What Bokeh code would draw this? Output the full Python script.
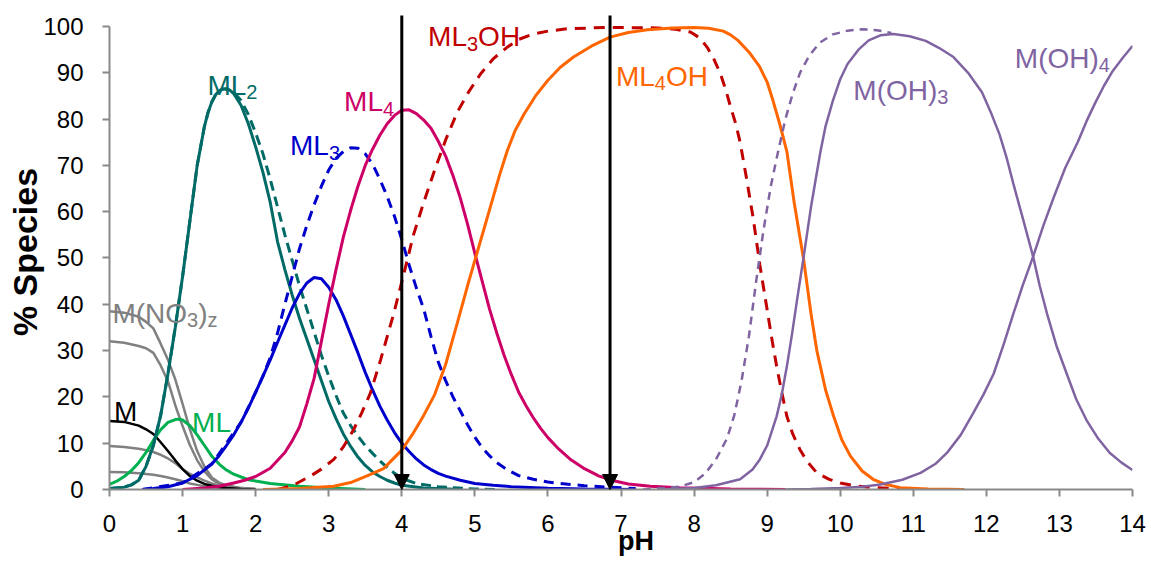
from bokeh.plotting import figure
from bokeh.models import Range1d, Label, Arrow, NormalHead, ColumnDataSource, LinearAxis, FixedTicker
from bokeh.embed import file_html
from bokeh.resources import INLINE

# ---------------- data ----------------
no3_x = [0, 0.2, 0.4, 0.5, 0.6, 0.7, 0.8, 0.9, 1.0, 1.1, 1.2, 1.3, 1.4, 1.5, 1.6, 1.8, 2.0]
no3_a = [38.5, 38.2, 37.3, 36.2, 34.8, 31.5, 28.0, 23.8, 18.5, 13.0, 8.3, 4.9, 2.6, 1.5, 0.9, 0.3, 0.1]
no3_b = [32.0, 31.7, 31.0, 30.5, 29.5, 26.8, 23.4, 18.2, 13.7, 9.6, 6.3, 3.9, 2.2, 1.3, 0.8, 0.3, 0.1]
no3_c = [9.4, 9.2, 8.8, 8.5, 8.1, 7.5, 6.7, 5.7, 4.4, 3.4, 2.6, 1.9, 1.3, 0.9, 0.6, 0.2, 0.05]
no3_d = [3.8, 3.7, 3.5, 3.35, 3.2, 2.9, 2.6, 2.2, 1.8, 1.3, 1.0, 0.7, 0.45, 0.3, 0.2, 0.05, 0.0]
m_y = [14.8, 14.6, 13.8, 13.0, 12.0, 10.2, 8.3, 6.3, 4.4, 2.9, 1.9, 1.2, 0.8, 0.5, 0.3, 0.1, 0.0]

ml_x = [0, 0.1, 0.2, 0.3, 0.4, 0.5, 0.6, 0.7, 0.8, 0.9, 0.95, 1.0, 1.1, 1.2, 1.3, 1.4, 1.5, 1.6,
        1.7, 1.9, 2.2, 2.6, 3.0, 3.5]
ml_y = [1.1, 1.8, 2.8, 4.1, 5.8, 8.0, 10.6, 12.9, 14.5, 15.1, 15.2, 15.0, 13.8, 11.8, 9.5, 7.2, 5.5, 4.2,
        3.3, 2.1, 1.3, 0.7, 0.3, 0.0]

ml2_x = [0, 0.2, 0.3, 0.4, 0.5, 0.6, 0.7, 0.8, 0.9, 1.0, 1.1, 1.2, 1.3, 1.35, 1.4, 1.45, 1.5, 1.55, 1.6,
         1.65, 1.7, 1.8, 1.9, 2.0, 2.1, 2.2, 2.3, 2.4, 2.5, 2.6, 2.7, 2.8, 2.9, 3.0, 3.1, 3.2, 3.3,
         3.4, 3.5, 3.6, 3.7, 3.8, 3.9, 4.0, 4.3, 4.8]
ml2_y = [0.2, 0.5, 1.0, 2.0, 5.0, 9.5, 16, 25, 35, 46, 58, 70, 78.5, 81.5, 83.7, 85.2, 86.1, 86.5, 86.5,
         86.2, 85.5, 83, 79, 74, 68.5, 62, 53.5, 47.5, 42, 37, 32.5, 28, 23.5, 19, 15.3, 12, 9.3,
         7, 5.2, 3.8, 2.8, 2.0, 1.4, 0.9, 0.3, 0.0]
ml2d_x = [0, 0.2, 0.3, 0.4, 0.5, 0.6, 0.7, 0.8, 0.9, 1.0, 1.1, 1.2, 1.3, 1.35, 1.4, 1.45, 1.5, 1.55, 1.6,
          1.65, 1.7, 1.8, 1.9, 2.0, 2.1, 2.2, 2.3, 2.4, 2.5, 2.6, 2.7, 2.8, 2.9, 3.0, 3.1, 3.2, 3.3,
          3.4, 3.5, 3.6, 3.7, 3.8, 3.9, 4.0, 4.2, 4.5, 5.0, 5.3]
ml2d_y = [0.2, 0.5, 1.0, 2.0, 5.0, 9.5, 16, 25, 35, 46, 58, 70, 78.5, 81.5, 83.7, 85.2, 86.1, 86.5, 86.5,
          86.3, 85.8, 84, 81, 77, 72.5, 67, 61, 55, 49.5, 44, 39, 34, 29, 24.5, 20.3, 16.5, 13.8,
          11.5, 9.5, 7.8, 6.2, 4.8, 3.5, 2.4, 1.3, 0.6, 0.1, 0.0]

ml3_x = [0.45, 0.6, 0.8, 1.0, 1.2, 1.4, 1.5, 1.6, 1.7, 1.8, 1.9, 2.0, 2.1, 2.2, 2.3, 2.4, 2.5, 2.6, 2.7,
         2.8, 2.9, 3.0, 3.1, 3.2, 3.3, 3.4, 3.5, 3.6, 3.7, 3.8, 3.9, 4.0, 4.1, 4.2, 4.3, 4.4, 4.5,
         4.6, 4.8, 5.0, 5.25, 5.5, 6.0, 6.5, 7.2]
ml3_y = [0, 0.2, 0.6, 1.4, 3.0, 5.5, 7.3, 9.5, 11.8, 14.5, 17.6, 21, 24.5, 28, 31.8, 35.5, 39.2, 42.3, 44.6,
         45.8, 45.5, 43.7, 41, 37.5, 33.5, 29.5, 25.3, 21.5, 18, 15, 12.3, 10, 8.2, 6.6, 5.3, 4.3, 3.5,
         2.9, 2.0, 1.3, 0.9, 0.6, 0.25, 0.1, 0.0]
ml3d_x = [0.45, 1.0, 1.4, 1.8, 2.0, 2.1, 2.2, 2.3, 2.4, 2.5, 2.6, 2.7, 2.8, 2.9, 3.0, 3.1, 3.2, 3.3, 3.4,
          3.5, 3.6, 3.7, 3.8, 3.9, 4.0, 4.1, 4.2, 4.3, 4.4, 4.5, 4.6, 4.7, 4.8, 4.9, 5.0, 5.1, 5.2,
          5.3, 5.45, 5.6, 5.8, 6.0, 6.5, 7.2]
ml3d_y = [0, 1.4, 5.5, 14.5, 21, 24.5, 28.5, 33.8, 40, 46, 52, 57, 61.5, 65.5, 69, 71.5, 73, 73.8, 73.7,
          72.5, 70.3, 67, 63.3, 59, 54, 48.5, 43.5, 39, 33, 27.5, 23.5, 20, 17, 14, 11.3, 9, 7.3,
          5.8, 4.2, 3, 2.2, 1.6, 0.8, 0.2]

ml4_x = [1.0, 1.3, 1.5, 1.7, 1.85, 2.0, 2.2, 2.4, 2.5, 2.6, 2.7, 2.8, 2.9, 3.0, 3.1, 3.2, 3.3, 3.4, 3.5,
         3.6, 3.7, 3.8, 3.9, 4.0, 4.1, 4.2, 4.3, 4.4, 4.5, 4.6, 4.7, 4.8, 4.9, 5.0, 5.1, 5.2, 5.3,
         5.4, 5.5, 5.6, 5.7, 5.8, 5.9, 6.0, 6.15, 6.3, 6.5, 6.7, 6.9, 7.1, 7.4, 7.8, 8.5, 9.25]
ml4_y = [0, 0.3, 0.7, 1.4, 2.0, 2.8, 4.6, 8.0, 10.5, 13.5, 18.5, 24, 32, 40, 47.5, 54.5, 60.3, 65.5, 70,
         73.5, 76.5, 79, 80.8, 81.9, 82, 81.2, 79.8, 78, 75.2, 72, 67.8, 63, 57.3, 51, 45, 39, 33.8,
         29, 24.8, 21, 18.1, 15.5, 13.2, 11.2, 8.7, 6.6, 4.5, 2.9, 1.9, 1.2, 0.7, 0.4, 0.1, 0.0]

ml3oh_x = [2.3, 2.5, 2.75, 2.9, 3.07, 3.2, 3.34, 3.45, 3.57, 3.71, 3.89, 4.03, 4.16, 4.3, 4.45, 4.6,
           4.76, 4.92, 5.08, 5.25, 5.44, 5.6, 5.8, 6.0, 6.26, 6.8, 7.5, 7.75, 7.95, 8.08, 8.18, 8.27,
           8.36, 8.43, 8.5, 8.57, 8.63, 8.72, 8.81, 8.9, 9.0, 9.07, 9.13, 9.2, 9.27, 9.35, 9.45, 9.55,
           9.68, 9.85, 10.0, 10.2, 10.45, 11.0]
ml3oh_y = [0, 0.8, 2.9, 4.4, 6.5, 9.2, 12.9, 16.5, 20.8, 28, 38, 46.7, 55, 62, 69, 75.5,
           81.5, 86, 89.8, 93, 95.5, 97.2, 98.4, 99.0, 99.5, 99.8, 99.7, 99.4, 98.8, 97.5, 95.5, 93,
           89.8, 86.5, 82.6, 79, 75, 67, 58.5, 48.5, 38.8, 32, 26.6, 21, 15.8, 12, 8.6, 6,
           3.6, 2.2, 1.4, 0.8, 0.4, 0.0]

ml4oh_x = [2.1, 2.6, 3.07, 3.3, 3.5, 3.75, 4.0, 4.15, 4.3, 4.45, 4.6, 4.76, 4.9, 5.0, 5.12, 5.23, 5.34,
           5.44, 5.55, 5.67, 5.83, 6.0, 6.17, 6.35, 6.6, 6.85, 7.1, 7.36, 7.7, 8.0, 8.2, 8.4, 8.5, 8.6,
           8.75, 8.89, 9.0, 9.08, 9.18, 9.27, 9.37, 9.5, 9.6, 9.68, 9.8, 9.91, 10.02, 10.14, 10.3,
           10.45, 10.6, 10.82, 11.2, 11.7]
ml4oh_y = [0, 0.2, 0.7, 1.5, 2.8, 4.5, 8.5, 12, 16, 20.5, 27, 36, 44, 49.5, 56, 62, 68,
           73, 77.5, 81, 85, 88.4, 91.2, 93.4, 95.8, 97.7, 98.7, 99.3, 99.7, 99.8, 99.6, 99, 98.2, 97,
           94.5, 91.5, 88, 84, 78.5, 73, 62, 49.6, 38, 30, 21.5, 15.8, 10.8, 7.2, 4,
           2.2, 1.2, 0.4, 0.1, 0.0]

moh3d_x = [7.3, 7.6, 7.8, 8.0, 8.15, 8.3, 8.45, 8.55, 8.65, 8.75, 8.85, 8.95, 9.05, 9.15, 9.25, 9.35,
           9.45, 9.58, 9.72, 9.9, 10.1, 10.3, 10.5, 10.7]
moh3d_y = [0, 0.3, 0.6, 1.6, 3.4, 6.5, 11, 16, 23.5, 33, 45, 56, 65.5, 73, 80, 85.5,
           90, 93.8, 96.5, 98.3, 99.1, 99.4, 99.2, 98.6]

moh3_x = [7.5, 8.0, 8.3, 8.63, 8.8, 8.9, 9.0, 9.13, 9.2, 9.27, 9.34, 9.41, 9.5, 9.6, 9.67, 9.73, 9.8,
          9.9, 10.0, 10.1, 10.25, 10.39, 10.55, 10.73, 10.95, 11.17, 11.35, 11.55, 11.75, 11.94,
          12.06, 12.18, 12.28, 12.37, 12.5, 12.64, 12.73, 12.83, 12.96, 13.1, 13.23, 13.37, 13.53,
          13.69, 13.85, 14.0]
moh3_y = [0, 0.3, 0.9, 2.2, 4.3, 6.5, 9.5, 15.8, 20.5, 26.6, 33.5, 41, 50.3, 61, 67.5, 73, 78.5,
          84, 88.6, 91.9, 95, 97, 98.1, 98.4, 97.9, 96.9, 95.4, 93.4, 90, 85.8,
          81.5, 76.7, 71.5, 66, 58.5, 50.3, 44, 38, 31, 25, 19.5, 15, 11,
          7.9, 5.8, 4.2]

moh4_x = [9.25, 9.6, 10.0, 10.3, 10.55, 10.85, 11.1, 11.3, 11.46, 11.65, 11.82, 11.96, 12.1, 12.24,
          12.37, 12.5, 12.64, 12.78, 12.92, 13.08, 13.25, 13.37, 13.49, 13.61, 13.73, 13.87, 14.0]
moh4_y = [0, 0.1, 0.3, 0.6, 1.1, 2.1, 3.6, 5.5, 7.9, 11.8, 16.5, 20.5, 25, 31.5,
          38, 44.2, 50.3, 57, 63, 69.5, 75, 79.5, 83.5, 87.2, 90.4, 93.3, 95.8]

arrow_x = [4.0, 6.85]
arrow_top = [102.4, 102.4]
arrow_bottom = [0.0, 0.0]

x_ticks = list(range(0, 15))
y_ticks = list(range(0, 101, 10))

# ---------------- styling ----------------
GRAY = "#808080"
TEAL = "#006B66"
BLUE = "#0000CC"
MAG = "#CC0066"
RED = "#C00000"
ORANGE = "#FF6600"
PURPLE = "#8064A2"
GREEN = "#00B050"
FONT = "Liberation Sans"

W, H = 1148, 558
FRAME_L, FRAME_R, FRAME_T, FRAME_B = 109, 1132, 14, 490
Y_TOP = 102.59

p = figure(width=W, height=H, x_range=Range1d(0, 14), y_range=Range1d(0, Y_TOP),
           output_backend="svg", toolbar_location=None,
           min_border_left=FRAME_L, min_border_right=W - FRAME_R,
           min_border_top=FRAME_T, min_border_bottom=H - FRAME_B)
p.outline_line_color = None
p.grid.visible = False
p.background_fill_color = "white"
p.border_fill_color = "white"

p.xaxis.ticker = x_ticks
p.yaxis.ticker = y_ticks
p.yaxis.bounds = (0, 100)
for ax in (p.xaxis[0], p.yaxis[0]):
    ax.axis_line_color = "#898989"
    ax.axis_line_width = 2
    ax.major_tick_line_color = "#898989"
    ax.major_tick_line_width = 2
    ax.major_tick_in = 0
    ax.major_tick_out = 7
    ax.minor_tick_line_color = None
    ax.major_label_text_font = FONT
    ax.major_label_text_font_size = "24px"
    ax.major_label_text_color = "black"
p.xaxis.major_label_standoff = 18
p.yaxis.major_label_standoff = 19

p.yaxis.axis_label = "% Species"
p.yaxis.axis_label_text_font = FONT
p.yaxis.axis_label_text_font_size = "34px"
p.yaxis.axis_label_text_font_style = "bold"
p.yaxis.axis_label_text_color = "black"
p.yaxis.axis_label_standoff = -4

# label-only x axis carrying the "pH" title (no-break spaces nudge it right as in the reference)
ph_axis = LinearAxis(ticker=FixedTicker(ticks=[]), axis_label="\u00a0\u00a0\u00a0\u00a0pH",
                     axis_line_color=None, major_tick_line_color=None, minor_tick_line_color=None,
                     major_tick_out=0, major_label_text_font_size="1px",
                     axis_label_text_font=FONT, axis_label_text_font_size="27px",
                     axis_label_text_font_style="bold", axis_label_text_color="black",
                     axis_label_standoff=-9)
p.add_layout(ph_axis, "below")

# ---------------- curves ----------------
for yy in (no3_a, no3_b, no3_c, no3_d):
    p.line(no3_x, yy, line_color=GRAY, line_width=2.5)
p.line(no3_x, m_y, line_color="black", line_width=2.5)
p.line(ml_x, ml_y, line_color=GREEN, line_width=3)
p.line(ml2d_x, ml2d_y, line_color=TEAL, line_width=3, line_dash="10 6")
p.line(ml2_x, ml2_y, line_color=TEAL, line_width=3)
p.line(ml3d_x, ml3d_y, line_color=BLUE, line_width=3, line_dash="10 7")
p.line(ml3_x, ml3_y, line_color=BLUE, line_width=3)
p.line(ml4_x, ml4_y, line_color=MAG, line_width=3)
p.line(ml3oh_x, ml3oh_y, line_color=RED, line_width=3, line_dash="11 8")
p.line(ml4oh_x, ml4oh_y, line_color=ORANGE, line_width=3)
p.line(moh3d_x, moh3d_y, line_color=PURPLE, line_width=2.5, line_dash="8 6")
p.line(moh3_x, moh3_y, line_color=PURPLE, line_width=2.5)
p.line(moh4_x, moh4_y, line_color=PURPLE, line_width=2.5)

arr_src = ColumnDataSource(dict(x=arrow_x, y0=arrow_top, y1=arrow_bottom))
p.add_layout(Arrow(end=NormalHead(size=15, fill_color="black", line_color="black", line_width=1),
                   x_start="x", y_start="y0", x_end="x", y_end="y1", source=arr_src,
                   line_color="black", line_width=3))

# ---------------- species labels ----------------
PXX = (FRAME_R - FRAME_L) / 14.0
PXY = (FRAME_B - FRAME_T) / Y_TOP
CW = {'M': 0.833, 'L': 0.556, '(': 0.333, ')': 0.333, 'N': 0.722, 'O': 0.778, 'H': 0.722,
      'z': 0.5, '2': 0.556, '3': 0.556, '4': 0.556}
MAIN_FS, SUB_FS, SUB_DROP = 28, 20, 7


def rich_label(parts, x0, y0, color):
    cur = 0.0
    for txt, sub in parts:
        fs = SUB_FS if sub else MAIN_FS
        y = y0 - (SUB_DROP / PXY if sub else 0)
        p.add_layout(Label(x=x0 + cur / PXX, y=y, text=txt, text_font=FONT,
                           text_font_size=f"{fs}px", text_color=color,
                           text_align="left", text_baseline="alphabetic"))
        cur += sum(CW[c] for c in txt) * fs


rich_label([("M(NO", False), ("3", True), (")", False), ("z", True)], 0.04, 38.1, GRAY)
rich_label([("M", False)], 0.06, 16.9, "black")
rich_label([("ML", False)], 1.13, 14.5, GREEN)
rich_label([("ML", False), ("2", True)], 1.34, 87.3, TEAL)
rich_label([("ML", False), ("3", True)], 2.47, 74.2, BLUE)
rich_label([("ML", False), ("4", True)], 3.21, 83.7, MAG)
rich_label([("ML", False), ("3", True), ("OH", False)], 4.36, 97.8, RED)
rich_label([("ML", False), ("4", True), ("OH", False)], 6.93, 89.2, ORANGE)
rich_label([("M(OH)", False), ("3", True)], 10.18, 86.2, PURPLE)
rich_label([("M(OH)", False), ("4", True)], 12.39, 93.1, PURPLE)

open("out.html", "w").write(file_html(p, INLINE))
